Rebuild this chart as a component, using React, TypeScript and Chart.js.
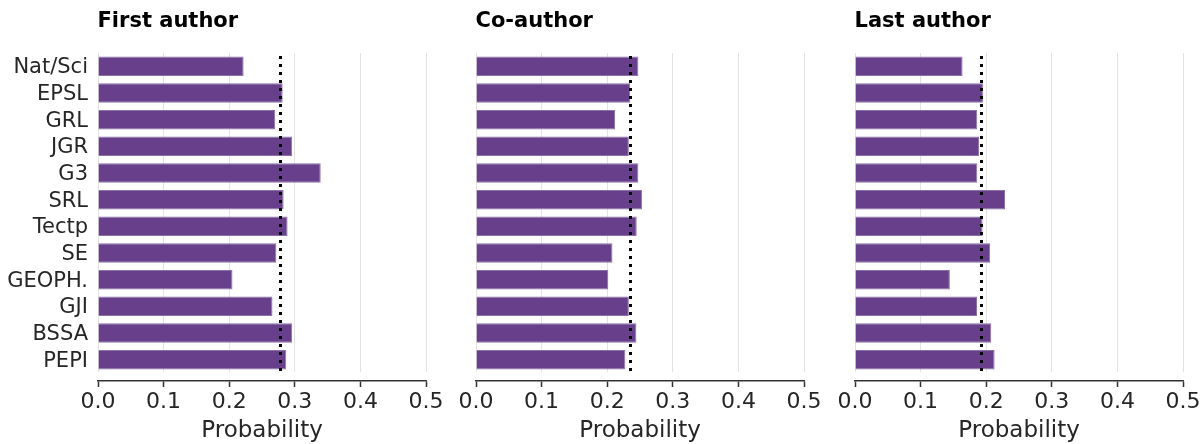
import React, { useEffect, useRef } from "react";
import { Chart, registerables } from "chart.js";

Chart.register(...registerables);

const journals = ["Nat/Sci", "EPSL", "GRL", "JGR", "G3", "SRL", "Tectp", "SE", "GEOPH.", "GJI", "BSSA", "PEPI"];
const firstAuthor = [0.222, 0.2815, 0.27, 0.296, 0.3395, 0.283, 0.289, 0.272, 0.205, 0.266, 0.296, 0.287];
const coAuthor = [0.2475, 0.235, 0.212, 0.233, 0.2475, 0.253, 0.245, 0.208, 0.2017, 0.233, 0.2445, 0.2277];
const lastAuthor = [0.164, 0.195, 0.1864, 0.189, 0.1864, 0.2287, 0.1945, 0.206, 0.1446, 0.186, 0.2077, 0.2128];
const panelTitles = ["First author", "Co-author", "Last author"];
const meanValues = [0.2775, 0.235, 0.192];
const xTicks = [0, 0.1, 0.2, 0.3, 0.4, 0.5];
const xAxisTitle = "Probability";

const panelSeries = [firstAuthor, coAuthor, lastAuthor];
const panelLeft = [0, 378, 757];

const FONT = "'DejaVu Sans', sans-serif";
const TEXT = "#262626";
const BAR = "#673f8a";

function Panel({ idx }: { idx: number }) {
  const ref = useRef<HTMLCanvasElement | null>(null);
  useEffect(() => {
    if (!ref.current) return;
    const shiftPlugin = {
      id: "shiftX",
      afterLayout(chart: any) {
        const s = chart.scales.x;
        s.top += 8;
        s.bottom += 1;
      },
    };
    const overlayPlugin = {
      id: "overlay",
      afterDatasetsDraw(chart: any) {
        const { ctx, chartArea } = chart;
        const x = Math.round(chart.scales.x.getPixelForValue(meanValues[idx])) + 0.5;
        ctx.save();
        ctx.strokeStyle = "#000";
        ctx.lineWidth = 3;
        ctx.setLineDash([3, 5]);
        ctx.lineDashOffset = -3;
        ctx.beginPath();
        ctx.moveTo(x, chartArea.top);
        ctx.lineTo(x, chartArea.bottom);
        ctx.stroke();
        ctx.restore();
      },
      afterDraw(chart: any) {
        const { ctx, chartArea } = chart;
        ctx.save();
        ctx.fillStyle = "#000";
        ctx.font = `bold 21px ${FONT}`;
        ctx.textAlign = "left";
        ctx.textBaseline = "middle";
        ctx.fillText(panelTitles[idx], chartArea.left - 0.5, 21.5);
        ctx.restore();
      },
    };
    const chart = new Chart(ref.current, {
      type: "bar",
      data: {
        labels: journals,
        datasets: [
          {
            data: panelSeries[idx],
            backgroundColor: BAR,
            borderColor: "#8c70aa",
            borderWidth: 1,
            barPercentage: 0.73,
            categoryPercentage: 1,
          },
        ],
      },
      options: {
        indexAxis: "y",
        animation: false,
        responsive: false,
        maintainAspectRatio: false,
        layout: { padding: { top: 53, right: 20, left: 0, bottom: 0 } },
        plugins: {
          legend: { display: false },
          tooltip: { enabled: false },
          title: { display: false },
        },
        scales: {
          x: {
            type: "linear",
            min: 0,
            max: 0.5,
            afterBuildTicks: (s: any) => {
              s.ticks = xTicks.map((v) => ({ value: v }));
            },
            ticks: {
              callback: (v: any) => Number(v).toFixed(1),
              font: { family: FONT, size: 22 },
              color: TEXT,
              padding: 2.5,
              maxRotation: 0,
              autoSkip: false,
            },
            grid: {
              color: "#e3e3e3",
              lineWidth: 1,
              tickColor: "#333",
              tickLength: 6,
              tickWidth: 1.5,
            },
            border: { display: true, color: "#333", width: 1.5 },
            title: {
              display: true,
              text: xAxisTitle,
              font: { family: FONT, size: 23 },
              color: TEXT,
              padding: { top: 0, bottom: 0 },
            },
            afterFit: (s: any) => {
              s.height = 71;
            },
          },
          y: {
            ticks: {
              display: idx === 0,
              font: { family: FONT, size: 21 },
              color: TEXT,
              padding: 10,
              autoSkip: false,
              labelOffset: 1.5,
            },
            grid: { display: false, drawTicks: false },
            border: { display: false },
            afterFit: (s: any) => {
              s.width = 98;
            },
          },
        },
      } as any,
      plugins: [shiftPlugin, overlayPlugin],
    });
    return () => chart.destroy();
  }, [idx]);
  return (
    <canvas
      ref={ref}
      width={446}
      height={444}
      style={{ position: "absolute", left: panelLeft[idx], top: 0, width: 446, height: 444 }}
    />
  );
}

export default function App() {
  return (
    <div
      style={{
        position: "fixed",
        left: 0,
        top: 0,
        width: 1204,
        height: 444,
        background: "#fff",
        overflow: "hidden",
      }}
    >
      <Panel idx={0} />
      <Panel idx={1} />
      <Panel idx={2} />
    </div>
  );
}
